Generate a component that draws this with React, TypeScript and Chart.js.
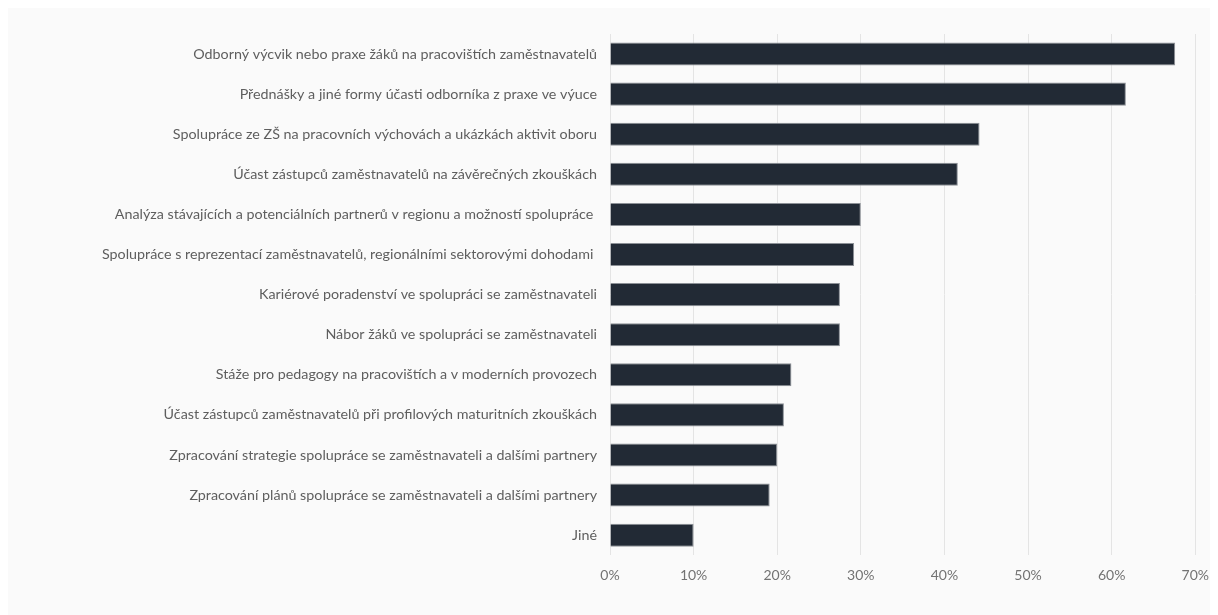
import React, { useEffect, useRef } from "react";
import { Chart, registerables } from "chart.js";

Chart.register(...registerables);

const categories: string[] = [
  "Odborný výcvik nebo praxe žáků na pracovištích zaměstnavatelů",
  "Přednášky a jiné formy účasti odborníka z praxe ve výuce",
  "Spolupráce ze ZŠ na pracovních výchovách a ukázkách aktivit oboru",
  "Účast zástupců zaměstnavatelů na závěrečných zkouškách",
  "Analýza stávajících a potenciálních partnerů v regionu a možností spolupráce ",
  "Spolupráce s reprezentací zaměstnavatelů, regionálními sektorovými dohodami ",
  "Kariérové poradenství ve spolupráci se zaměstnavateli",
  "Nábor žáků ve spolupráci se zaměstnavateli",
  "Stáže pro pedagogy na pracovištích a v moderních provozech",
  "Účast zástupců zaměstnavatelů při profilových maturitních zkouškách",
  "Zpracování strategie spolupráce se zaměstnavateli a dalšími partnery",
  "Zpracování plánů spolupráce se zaměstnavateli a dalšími partnery",
  "Jiné",
];

const values: number[] = [67.6, 61.7, 44.2, 41.6, 30.0, 29.2, 27.5, 27.5, 21.7, 20.8, 20.0, 19.1, 10.0];

const axisMin = 0;
const axisMax = 70;
const axisStep = 10;

export default function App() {
  const ref = useRef<HTMLCanvasElement | null>(null);

  useEffect(() => {
    if (!ref.current) return;
    const chart = new Chart(ref.current, {
      type: "bar",
      data: {
        labels: categories,
        datasets: [
          {
            data: values,
            backgroundColor: "#222a35",
            borderColor: "#8c9096",
            borderWidth: 1,
            barPercentage: 0.575,
            categoryPercentage: 1,
          },
        ],
      },
      options: {
        indexAxis: "y",
        animation: false,
        responsive: false,
        maintainAspectRatio: false,
        layout: { padding: { top: 26, bottom: 19, left: 0, right: 4 } },
        plugins: {
          legend: { display: false },
          tooltip: { enabled: false },
          title: { display: false },
        },
        scales: {
          x: {
            min: axisMin,
            max: axisMax,
            grid: { color: "#e4e4e4", lineWidth: 1, drawTicks: false },
            border: { display: false },
            ticks: {
              stepSize: axisStep,
              padding: 12,
              color: "#737373",
              font: { family: "Lato", size: 14 },
              callback: (v: any) => `${v}%`,
            },
          },
          y: {
            grid: { display: false, drawTicks: false },
            border: { display: false },
            ticks: {
              padding: 13,
              color: "#5e5e5e",
              font: { family: "Lato", size: 14.3 },
              autoSkip: false,
            },
            afterFit: (scale: any) => {
              scale.width = 602;
            },
          },
        },
      },
    });
    return () => chart.destroy();
  }, []);

  return (
    <div style={{ width: 1202, height: 607, background: "#fafafa", overflow: "visible" }}>
      <canvas ref={ref} width={1213} height={607} style={{ display: "block" }} />
    </div>
  );
}
